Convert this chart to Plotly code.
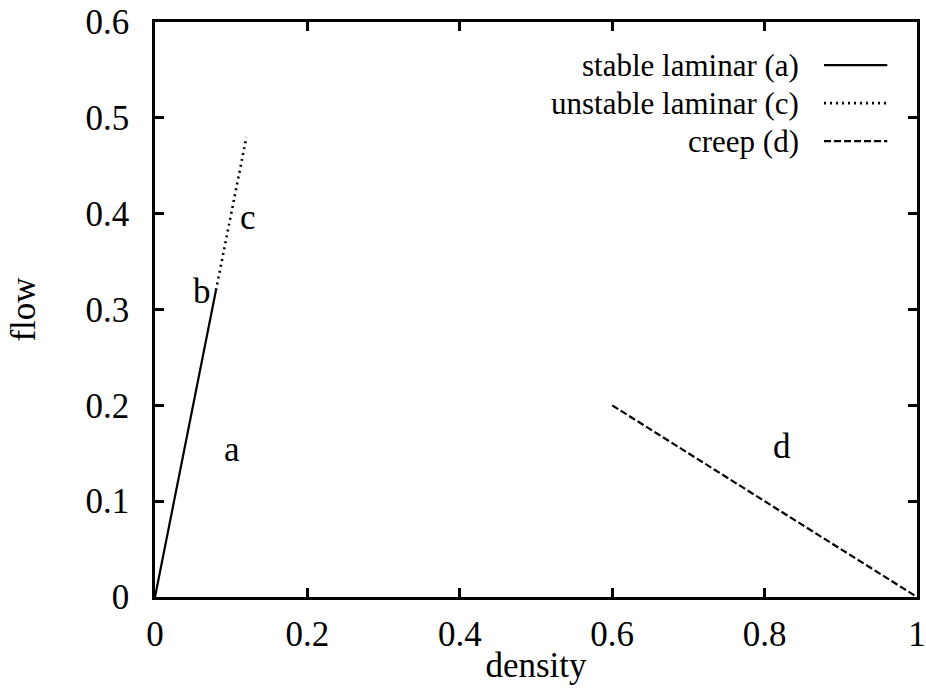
import plotly.graph_objects as go

# Data
stable_density = [0.0, 0.08]
stable_flow = [0.0, 0.32]
unstable_density = [0.08, 0.12]
unstable_flow = [0.32, 0.48]
creep_density = [0.6, 1.0]
creep_flow = [0.2, 0.0]

x_ticks = [0, 0.2, 0.4, 0.6, 0.8, 1]
x_ticklabels = ["0", "0.2", "0.4", "0.6", "0.8", "1"]
y_ticks = [0, 0.1, 0.2, 0.3, 0.4, 0.5, 0.6]
y_ticklabels = ["0", "0.1", "0.2", "0.3", "0.4", "0.5", "0.6"]

legend_names = ["stable laminar (a)", "unstable laminar (c)", "creep (d)"]
legend_dash = ["solid", "2px,4px", "7px,3px"]

point_labels = ["a", "b", "c", "d"]
point_label_x = [0.101, 0.062, 0.122, 0.823]
point_label_y = [0.154, 0.319, 0.396, 0.157]

FONT = "Liberation Serif, Times New Roman, serif"
FS = 35
LFS = 31

fig = go.Figure()
fig.add_trace(go.Scatter(x=stable_density, y=stable_flow, mode="lines",
                         line=dict(color="black", width=2.2, dash=legend_dash[0]),
                         name=legend_names[0], showlegend=False))
fig.add_trace(go.Scatter(x=unstable_density, y=unstable_flow, mode="lines",
                         line=dict(color="black", width=2.6, dash=legend_dash[1]),
                         name=legend_names[1], showlegend=False))
fig.add_trace(go.Scatter(x=creep_density, y=creep_flow, mode="lines",
                         line=dict(color="black", width=2.2, dash=legend_dash[2]),
                         name=legend_names[2], showlegend=False))

# point labels
for t, x, y in zip(point_labels, point_label_x, point_label_y):
    fig.add_annotation(x=x, y=y, text=t, showarrow=False,
                       font=dict(family=FONT, size=FS, color="black"))

# legend drawn gnuplot-style (text right-aligned, sample on the right)
row_y = [0.925, 0.859, 0.793]
for name, dash, ry, w in zip(legend_names, legend_dash, row_y, [2.2, 2.6, 2.2]):
    fig.add_annotation(xref="paper", yref="paper", x=0.848, y=ry, text=name,
                       showarrow=False, xanchor="right", yanchor="middle",
                       font=dict(family=FONT, size=LFS, color="black"))
    fig.add_shape(type="line", xref="paper", yref="paper", x0=0.878, x1=0.961,
                  y0=ry, y1=ry, line=dict(color="black", width=w, dash=dash))

axis_common = dict(showgrid=False, zeroline=False, showline=True, linecolor="black",
                   linewidth=2.5, mirror="ticks", ticks="inside", ticklen=9,
                   tickwidth=2.5, tickcolor="black", automargin=False,
                   ticklabeloverflow="allow",
                   tickfont=dict(family=FONT, size=FS, color="black"))

fig.update_layout(
    template="none",
    width=926, height=696,
    margin=dict(l=155, r=9, t=22, b=99),
    paper_bgcolor="white", plot_bgcolor="white",
    font=dict(family=FONT, size=FS, color="black"),
    xaxis=dict(range=[0, 1], tickvals=x_ticks, ticktext=x_ticklabels,
               title=dict(text="density", font=dict(family=FONT, size=FS, color="black"),
                          standoff=0),
               ticklabelstandoff=4, **axis_common),
    yaxis=dict(range=[0, 0.6], tickvals=y_ticks, ticktext=y_ticklabels,
               title=dict(text="flow", font=dict(family=FONT, size=FS, color="black"),
                          standoff=40),
               ticklabelstandoff=16, **axis_common),
)

fig.write_html("out.html", config={"displayModeBar": False},
               post_script="document.body.style.margin='0';document.body.style.overflow='hidden';")
